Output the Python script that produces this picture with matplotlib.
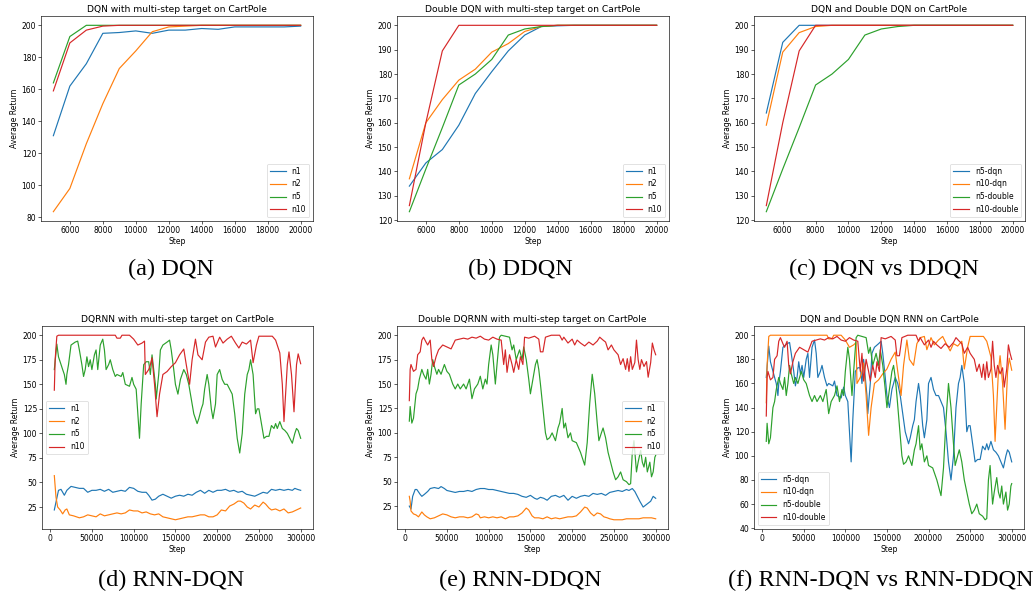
import matplotlib
matplotlib.use("Agg")
import matplotlib.pyplot as plt

# ---- top row: step 5000..20000 ----
STEPS_TOP = [5000, 6000, 7000, 8000, 9000, 10000, 11000, 12000, 13000, 14000,
             15000, 16000, 17000, 18000, 19000, 20000]

DQN_N1 = [131, 162, 176, 195, 195.5, 196.5, 195, 197, 197, 198, 197.5, 199, 199, 199, 199, 199.5]
DQN_N2 = [83.5, 98, 126, 151, 173, 184, 196, 199, 199.5, 200, 200, 200, 200, 200, 200, 200]
DQN_N5 = [164, 193, 200, 200, 200, 200, 200, 200, 200, 200, 200, 200, 200, 200, 200, 200]
DQN_N10 = [159, 189, 197, 199.5, 200, 200, 200, 200, 200, 200, 200, 200, 200, 200, 200, 200]

DDQN_N1 = [134, 143.5, 149, 159, 172, 181, 189.5, 196, 199.5, 199.8, 200, 200, 200, 200, 200, 200]
DDQN_N2 = [137, 160, 169.5, 177.5, 182, 189, 192.5, 197.5, 199.5, 200, 200, 200, 200, 200, 200, 200]
DDQN_N5 = [123.5, 141, 158, 175.5, 180, 186, 196, 198.5, 199.5, 200, 200, 200, 200, 200, 200, 200]
DDQN_N10 = [126, 160, 189.5, 200, 200, 200, 200, 200, 200, 200, 200, 200, 200, 200, 200, 200]

# ---- bottom row: RNN runs, read at turning points ----
RNN_DQN_N1_X = [5000, 10000, 13000, 17000, 20000, 25000, 30000, 35000, 40000, 45000, 50000, 55000,
                60000, 65000, 70000, 75000, 80000, 85000, 90000, 95000, 100000, 105000, 110000,
                115000, 118000, 122000, 126000, 130000, 135000, 140000, 145000, 150000, 155000,
                160000, 165000, 170000, 175000, 180000, 185000, 190000, 195000, 200000, 205000,
                210000, 215000, 220000, 225000, 230000, 235000, 240000, 245000, 250000, 255000,
                260000, 265000, 270000, 275000, 280000, 285000, 290000, 293000, 296000, 300000]
RNN_DQN_N1_Y = [22, 42, 43, 37, 42, 46, 45, 44, 44, 40, 42, 42, 43, 41, 43, 40, 41, 42, 41, 45, 44,
                41, 40, 40, 37, 32, 33, 36, 38, 36, 34, 36, 37, 36, 38, 37, 40, 42, 39, 42, 40, 42,
                42, 43, 41, 42, 40, 41, 38, 37, 36, 38, 40, 39, 43, 42, 43, 42, 43, 42, 44, 43, 42]

RNN_DQN_N2_X = [5000, 7000, 9000, 12000, 15000, 18000, 20000, 23000, 28000, 35000, 40000, 45000,
                50000, 55000, 60000, 65000, 70000, 75000, 80000, 85000, 90000, 95000, 100000,
                105000, 110000, 115000, 120000, 125000, 130000, 135000, 140000, 145000, 150000,
                155000, 160000, 165000, 170000, 175000, 180000, 185000, 190000, 195000, 200000,
                205000, 210000, 215000, 220000, 225000, 228000, 232000, 236000, 240000, 245000,
                250000, 255000, 258000, 262000, 265000, 270000, 275000, 280000, 285000, 290000,
                295000, 300000]
RNN_DQN_N2_Y = [57, 35, 25, 22, 18, 22, 23, 17, 16, 14, 15, 17, 16, 15, 18, 16, 17, 18, 19, 18, 19,
                22, 21, 21, 19, 20, 18, 17, 18, 15, 14, 13, 12, 13, 14, 15, 15, 16, 17, 17, 15, 15,
                17, 22, 21, 26, 28, 31, 31, 29, 25, 23, 27, 25, 30, 28, 24, 22, 23, 21, 23, 19, 20,
                22, 24]

RNN_DQN_N5_X = [5000, 8000, 10000, 15000, 17000, 19000, 20000, 22000, 25000, 30000, 33000, 35000,
                38000, 40000, 42000, 44000, 46000, 48000, 50000, 53000, 55000, 57000, 60000, 63000,
                65000, 67000, 70000, 72000, 75000, 78000, 80000, 85000, 87000, 90000, 95000, 98000,
                100000, 103000, 105000, 107000, 109000, 112000, 115000, 118000, 120000, 122000,
                124000, 126000, 127000, 130000, 132000, 135000, 140000, 143000, 145000, 148000,
                150000, 153000, 156000, 160000, 163000, 166000, 168000, 172000, 176000, 178000,
                181000, 183000, 185000, 188000, 190000, 193000, 195000, 198000, 200000, 203000,
                206000, 209000, 212000, 215000, 218000, 221000, 224000, 227000, 230000, 233000,
                236000, 238000, 240000, 243000, 246000, 248000, 250000, 253000, 256000, 259000,
                262000, 265000, 268000, 270000, 272000, 275000, 278000, 281000, 284000, 287000,
                290000, 293000, 295000, 297000, 300000]
RNN_DQN_N5_Y = [165, 191, 178, 165, 160, 150, 160, 170, 190, 193, 194, 185, 170, 158, 165, 178, 168,
                175, 165, 180, 185, 165, 190, 196, 185, 165, 170, 175, 165, 158, 160, 158, 162, 150,
                148, 157, 150, 145, 120, 95, 130, 170, 173, 173, 160, 180, 165, 150, 135, 160, 185,
                190, 193, 195, 185, 165, 150, 140, 155, 165, 160, 150, 140, 120, 110, 115, 125, 130,
                145, 160, 150, 125, 115, 130, 160, 165, 155, 150, 150, 145, 140, 120, 95, 80, 100,
                140, 160, 165, 175, 160, 120, 125, 125, 110, 95, 97, 97, 108, 105, 110, 105, 112,
                105, 103, 100, 95, 90, 100, 105, 103, 95]

RNN_DQN_N10_X = [5000, 6000, 8000, 10000, 78000, 80000, 84000, 86000, 95000, 100000, 105000,
                 110000, 113000, 114000, 118000, 120000, 122000, 125000, 128000, 131000, 135000,
                 140000, 145000, 150000, 155000, 160000, 163000, 167000, 170000, 174000, 177000,
                 182000, 186000, 190000, 195000, 198000, 203000, 207000, 212000, 217000, 222000,
                 226000, 230000, 235000, 240000, 243000, 247000, 250000, 266000, 270000, 275000,
                 278000, 280000, 284000, 286000, 289000, 292000, 295000, 297000, 300000]
RNN_DQN_N10_Y = [144, 175, 199, 200, 200, 197, 197, 200, 200, 196, 190, 192, 194, 160, 165, 170,
                 177, 150, 117, 140, 160, 163, 168, 172, 180, 186, 170, 150, 175, 196, 180, 175,
                 193, 198, 199, 188, 198, 192, 196, 199, 192, 187, 193, 191, 195, 172, 190, 199,
                 199, 195, 182, 150, 112, 170, 183, 160, 122, 170, 181, 171]

RNN_DDQN_N1_X = [5000, 7000, 9000, 12000, 14000, 18000, 20000, 23000, 27000, 30000, 35000, 40000,
                 43000, 47000, 50000, 55000, 60000, 65000, 70000, 75000, 80000, 85000, 90000,
                 95000, 100000, 105000, 110000, 115000, 120000, 125000, 130000, 135000, 140000,
                 145000, 150000, 155000, 158000, 162000, 166000, 170000, 175000, 180000, 185000,
                 190000, 195000, 200000, 205000, 210000, 215000, 220000, 225000, 230000, 235000,
                 240000, 245000, 250000, 255000, 260000, 265000, 268000, 272000, 275000, 278000,
                 281000, 285000, 288000, 291000, 294000, 297000, 300000]
RNN_DDQN_N1_Y = [25, 22, 35, 42, 42, 37, 35, 37, 40, 43, 44, 43, 45, 43, 41, 40, 39, 40, 40, 41,
                 40, 42, 43, 43, 42, 42, 41, 40, 39, 38, 38, 37, 35, 34, 36, 33, 32, 34, 33, 31,
                 35, 36, 34, 36, 31, 35, 33, 35, 36, 35, 38, 37, 38, 36, 39, 40, 41, 40, 42, 41,
                 43, 40, 35, 30, 24, 26, 28, 30, 35, 33]

RNN_DDQN_N2_X = [5000, 6000, 7000, 10000, 13000, 16000, 20000, 23000, 26000, 30000, 35000, 40000,
                 45000, 50000, 55000, 60000, 65000, 70000, 75000, 80000, 85000, 88000, 90000,
                 95000, 100000, 105000, 110000, 115000, 120000, 125000, 130000, 135000, 140000,
                 145000, 148000, 152000, 155000, 160000, 165000, 170000, 175000, 180000, 185000,
                 190000, 195000, 200000, 205000, 210000, 215000, 218000, 222000, 226000, 230000,
                 234000, 238000, 242000, 245000, 250000, 255000, 260000, 265000, 270000, 275000,
                 280000, 285000, 290000, 295000, 300000]
RNN_DDQN_N2_Y = [35, 30, 20, 17, 16, 14, 19, 16, 14, 12, 13, 15, 17, 16, 14, 13, 14, 14, 13, 14,
                 17, 16, 13, 14, 13, 14, 13, 14, 12, 14, 14, 15, 18, 23, 21, 15, 13, 13, 12, 14,
                 12, 13, 12, 13, 14, 14, 15, 19, 24, 23, 18, 15, 18, 17, 14, 13, 12, 11, 11, 11,
                 12, 12, 12, 12, 13, 13, 13, 12]

RNN_DDQN_N5_X = [5000, 6000, 8000, 10000, 13000, 15000, 17000, 20000, 22000, 25000, 27000, 29000,
                 31000, 33000, 35000, 38000, 40000, 43000, 47000, 50000, 53000, 57000, 60000,
                 63000, 66000, 70000, 73000, 77000, 80000, 83000, 87000, 90000, 93000, 96000,
                 98000, 100000, 103000, 105000, 108000, 110000, 113000, 115000, 120000, 125000,
                 128000, 130000, 133000, 137000, 140000, 142000, 145000, 148000, 150000, 153000,
                 156000, 158000, 160000, 162000, 165000, 168000, 170000, 173000, 176000, 180000,
                 183000, 185000, 188000, 190000, 192000, 195000, 198000, 200000, 205000, 210000,
                 215000, 218000, 221000, 224000, 227000, 230000, 232000, 235000, 237000, 240000,
                 243000, 246000, 249000, 252000, 255000, 258000, 261000, 265000, 268000, 270000,
                 272000, 274000, 277000, 279000, 282000, 284000, 286000, 288000, 290000, 293000,
                 295000, 297000, 299000, 300000]
RNN_DDQN_N5_Y = [112, 127, 110, 115, 140, 145, 155, 165, 160, 155, 165, 150, 160, 175, 168, 160,
                 165, 160, 170, 163, 160, 150, 145, 150, 145, 150, 145, 155, 135, 145, 150, 158,
                 145, 155, 150, 170, 190, 180, 150, 170, 198, 200, 199, 198, 185, 190, 175, 185,
                 175, 188, 175, 155, 140, 155, 170, 175, 165, 150, 125, 100, 93, 95, 100, 92, 105,
                 110, 125, 105, 110, 95, 100, 92, 90, 80, 67, 90, 130, 160, 140, 110, 92, 100, 105,
                 95, 80, 70, 60, 52, 55, 60, 52, 50, 47, 48, 80, 92, 60, 70, 82, 70, 65, 75, 60,
                 70, 55, 60, 75, 77]

RNN_DDQN_N10_X = [5000, 6000, 7000, 10000, 13000, 15000, 18000, 20000, 22000, 25000, 27000, 30000,
                  32000, 34000, 37000, 40000, 45000, 50000, 55000, 60000, 65000, 70000, 75000,
                  80000, 85000, 90000, 95000, 100000, 105000, 110000, 115000, 118000, 120000,
                  122000, 125000, 128000, 130000, 133000, 136000, 138000, 141000, 143000, 148000,
                  155000, 160000, 162000, 165000, 168000, 175000, 185000, 188000, 190000, 195000,
                  200000, 203000, 206000, 210000, 215000, 220000, 225000, 230000, 233000, 237000,
                  240000, 243000, 247000, 250000, 255000, 258000, 261000, 264000, 266000, 268000,
                  270000, 272000, 275000, 277000, 279000, 281000, 283000, 286000, 289000, 291000,
                  294000, 296000, 298000, 300000]
RNN_DDQN_N10_Y = [133, 165, 170, 163, 165, 180, 183, 195, 198, 193, 190, 195, 175, 168, 178, 185,
                  190, 188, 186, 195, 196, 197, 196, 198, 197, 199, 196, 195, 198, 196, 195, 170,
                  185, 162, 180, 170, 162, 175, 165, 178, 170, 198, 197, 199, 196, 183, 183, 198,
                  200, 200, 195, 198, 192, 196, 190, 195, 192, 189, 193, 190, 194, 198, 195, 193,
                  185, 190, 185, 180, 170, 176, 165, 176, 163, 178, 165, 172, 195, 175, 165, 175,
                  168, 173, 157, 172, 192, 185, 180]

TOP_PANELS = [
    ("DQN with multi-step target on CartPole", ["n1", "n2", "n5", "n10"],
     [DQN_N1, DQN_N2, DQN_N5, DQN_N10], range(80, 201, 20), "(a) DQN"),
    ("Double DQN with multi-step target on CartPole", ["n1", "n2", "n5", "n10"],
     [DDQN_N1, DDQN_N2, DDQN_N5, DDQN_N10], range(120, 201, 10), "(b) DDQN"),
    ("DQN and Double DQN on CartPole", ["n5-dqn", "n10-dqn", "n5-double", "n10-double"],
     [DQN_N5, DQN_N10, DDQN_N5, DDQN_N10], range(120, 201, 10), "(c) DQN vs DDQN"),
]

BOTTOM_PANELS = [
    ("DQRNN with multi-step target on CartPole", ["n1", "n2", "n5", "n10"],
     [(RNN_DQN_N1_X, RNN_DQN_N1_Y), (RNN_DQN_N2_X, RNN_DQN_N2_Y),
      (RNN_DQN_N5_X, RNN_DQN_N5_Y), (RNN_DQN_N10_X, RNN_DQN_N10_Y)],
     range(25, 201, 25), "center left", "(d) RNN-DQN"),
    ("Double DQRNN with multi-step target on CartPole", ["n1", "n2", "n5", "n10"],
     [(RNN_DDQN_N1_X, RNN_DDQN_N1_Y), (RNN_DDQN_N2_X, RNN_DDQN_N2_Y),
      (RNN_DDQN_N5_X, RNN_DDQN_N5_Y), (RNN_DDQN_N10_X, RNN_DDQN_N10_Y)],
     range(25, 201, 25), "center right", "(e) RNN-DDQN"),
    ("DQN and Double DQN RNN on CartPole", ["n5-dqn", "n10-dqn", "n5-double", "n10-double"],
     [(RNN_DQN_N5_X, RNN_DQN_N5_Y), (RNN_DQN_N10_X, RNN_DQN_N10_Y),
      (RNN_DDQN_N5_X, RNN_DDQN_N5_Y), (RNN_DDQN_N10_X, RNN_DDQN_N10_Y)],
     range(40, 201, 20), "lower left", "(f) RNN-DQN vs RNN-DDQN"),
]

COLORS = ["#1f77b4", "#ff7f0e", "#2ca02c", "#d62728"]
W, H = 1035, 600
FS = 5.5
LW = 0.85
CAP_FS = 17.5

# pixel boxes (left, top, right, bottom)
TOP_BOXES = [(41, 16, 313, 221), (397, 16, 669, 221), (754, 16, 1025, 221)]
BOT_BOXES = [(42, 326, 313, 529), (397, 326, 668, 529), (754, 326, 1024, 529)]
CAPTION_X = [171, 520, 884]


def make_axes(fig, box):
    l, t, r, b = box
    ax = fig.add_axes([l / W, 1 - b / H, (r - l) / W, (b - t) / H])
    ax.tick_params(labelsize=FS, length=2, width=0.45, pad=1.5)
    for s in ax.spines.values():
        s.set_linewidth(0.45)
    ax.set_xlabel("Step", fontsize=FS, labelpad=1.5)
    ax.set_ylabel("Average Return", fontsize=FS, labelpad=2)
    return ax


def style_legend(ax, loc):
    leg = ax.legend(loc=loc, fontsize=FS)
    leg.get_frame().set_linewidth(0.5)


fig = plt.figure(figsize=(W / 100, H / 100), dpi=100)

for box, (title, names, series, yt, cap), cx in zip(TOP_BOXES, TOP_PANELS, CAPTION_X):
    ax = make_axes(fig, box)
    for name, vals, c in zip(names, series, COLORS):
        ax.plot(STEPS_TOP, vals, color=c, linewidth=LW, label=name)
    ax.set_title(title, fontsize=6.6, pad=3)
    ax.set_xticks(range(6000, 20001, 2000))
    ax.set_yticks(list(yt))
    style_legend(ax, "lower right")
    fig.text(cx / W, 1 - 269 / H, cap, fontsize=CAP_FS, family="Liberation Serif",
             ha="center", va="center")

for box, (title, names, series, yt, loc, cap), cx in zip(BOT_BOXES, BOTTOM_PANELS, CAPTION_X):
    ax = make_axes(fig, box)
    for name, (xs, ys), c in zip(names, series, COLORS):
        ax.plot(xs, ys, color=c, linewidth=LW, label=name)
    ax.set_title(title, fontsize=6.6, pad=3)
    ax.set_xticks(range(0, 300001, 50000))
    ax.set_yticks(list(yt))
    style_legend(ax, loc)
    # last caption is right-aligned so it stays inside the figure
    if cap.startswith("(f)"):
        fig.text(1033 / W, 1 - 580 / H, cap, fontsize=CAP_FS, family="Liberation Serif",
                 ha="right", va="center")
    else:
        fig.text(cx / W, 1 - 580 / H, cap, fontsize=CAP_FS, family="Liberation Serif",
                 ha="center", va="center")

fig.savefig("out.png", dpi=100)
